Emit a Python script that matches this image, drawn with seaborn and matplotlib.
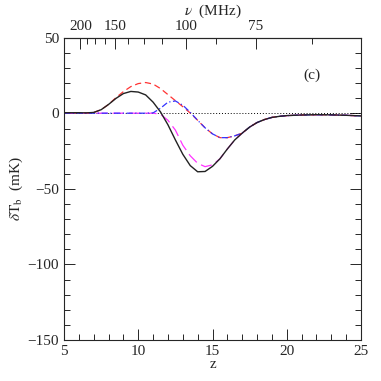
import numpy as np
import pandas as pd
import matplotlib
matplotlib.use('Agg')
import matplotlib.pyplot as plt
import seaborn as sns
from matplotlib.ticker import MultipleLocator, FixedLocator

# redshift grid and brightness temperature curves (mK)
z = [5, 5.5, 6, 6.5, 7, 7.5, 8, 8.5, 9, 9.5, 10, 10.5, 11, 11.5, 12, 12.5, 13, 13.5,
     14, 14.5, 15, 15.5, 16, 16.5, 17, 17.5, 18, 18.5, 19, 19.5, 20, 21, 22, 23, 24, 25]
t_full = [0.5, 0.5, 0.5, 0.4, 0.7, 2.5, 6, 10, 13.2, 14.6, 14.2, 12.3, 7.5, 1, -7.5, -17.5, -27, -34.5,
          -38.6, -38.4, -35, -30, -23.5, -17.5, -13, -9, -6, -4, -2.6, -1.9, -1.4, -1, -0.8, -0.9, -1.2, -1.6]
t_red = [0.5, 0.5, 0.5, 0.4, 0.7, 2.5, 6, 10.5, 14.5, 17.8, 19.8, 20.5, 19.5, 16.5, 12.5, 8.5, 4.5, 0.3,
         -4.5, -9.5, -13.5, -16, -16, -14.8, -13, -9, -6, -4, -2.6, -1.9, -1.4, -1, -0.8, -0.9, -1.2, -1.6]
t_blue = [0.2, 0.2, 0.2, 0.2, 0.2, 0.2, 0.2, 0.2, 0.2, 0.2, 0.2, 0.2, 0.4, 3.5, 7.5, 8.3, 5.5, 0.8,
          -4.5, -9.5, -13.5, -16, -16, -14.8, -13, -9, -6, -4, -2.6, -1.9, -1.4, -1, -0.8, -0.9, -1.2, -1.6]
t_mag = [0.2, 0.2, 0.2, 0.2, 0.2, 0.2, 0.2, 0.2, 0.2, 0.2, 0.2, 0.2, 0.2, -0.5, -4.5, -11, -21, -28,
         -33, -35.2, -34, -30, -23.5, -17.5, -13, -9, -6, -4, -2.6, -1.9, -1.4, -1, -0.8, -0.9, -1.2, -1.6]

nu_major = [200, 150, 100, 75]
nu_minor = [187.5, 175, 162.5, 137.5, 125, 112.5, 87.5, 62.5]
NU21 = 1420.0

sns.set_style('ticks')
plt.rcParams['font.family'] = ['Liberation Serif', 'DejaVu Serif']
plt.rcParams['mathtext.fontset'] = 'stix'

fig = plt.figure(figsize=(3.81, 3.81), dpi=100)
ax = fig.add_axes([0.168, 0.1076, 0.7795, 0.7927])

ax.axhline(0, color='black', ls=(0, (1, 2)), lw=0.7)
sns.lineplot(x=z, y=t_mag, ax=ax, color='#ff33ff', lw=0.9, linestyle=(0, (9, 4)))
sns.lineplot(x=z, y=t_red, ax=ax, color='#ff3333', lw=0.9, linestyle=(0, (5, 3)))
sns.lineplot(x=z, y=t_blue, ax=ax, color='#3333ff', lw=0.9, linestyle=(0, (5, 2, 1, 2)))
sns.lineplot(x=z, y=t_full, ax=ax, color='#222222', lw=1.0)

ax.set_xlim(5, 25)
ax.set_ylim(-150, 50)
ax.xaxis.set_major_locator(MultipleLocator(5))
ax.xaxis.set_minor_locator(MultipleLocator(1))
ax.yaxis.set_major_locator(MultipleLocator(50))
ax.yaxis.set_minor_locator(MultipleLocator(10))
ax.tick_params(which='both', direction='in', right=True, top=False, labelsize=11, width=0.7)
ax.tick_params(which='major', length=8)
ax.tick_params(which='minor', length=4)
for s in ax.spines.values():
    s.set_linewidth(0.8)

ax.set_xlabel('z', fontsize=11, labelpad=0)
ax.set_ylabel(r'$\delta \mathrm{T_b}$  (mK)', fontsize=11, labelpad=2)

# top axis in observed frequency
sec = ax.secondary_xaxis('top', functions=(lambda x: NU21 / (1 + np.asarray(x, float)),
                                           lambda n: NU21 / np.asarray(n, float) - 1))
sec.xaxis.set_major_locator(FixedLocator(nu_major))
sec.xaxis.set_minor_locator(FixedLocator(nu_minor))
sec.tick_params(which='both', direction='in', labelsize=11, width=0.7)
sec.tick_params(which='major', length=8)
sec.tick_params(which='minor', length=4)
sec.set_xlabel(r'$\nu$  (MHz)', fontsize=11, labelpad=4)

ax.text(21.7, 25, '(c)', fontsize=11, ha='center', va='center')

fig.savefig('out.png', dpi=100)
